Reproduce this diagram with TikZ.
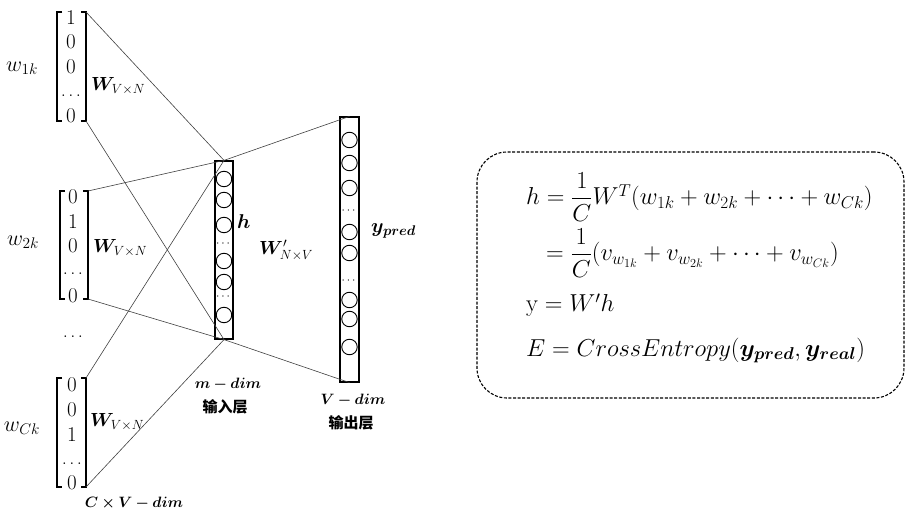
\RequirePackage{fix-cm}
\documentclass[tikz,border=0pt]{standalone}
\usepackage{amsmath}
\usepackage{bm}
\usepackage{fontspec}
\newfontfamily\cjk{Noto Sans CJK SC}
\begin{document}
\begin{tikzpicture}[x=1pt,y=-1pt,
  ent/.style={font=\fontsize{21}{21}\selectfont, inner sep=0},
  entdots/.style={font=\fontsize{17}{17}\selectfont, inner sep=0},
  lbl/.style={font=\fontsize{22}{22}\selectfont, inner sep=0},
  wlbl/.style={font=\fontsize{19}{19}\selectfont, inner sep=0, anchor=west},
  dimlbl/.style={font=\fontsize{15}{15}\selectfont, inner sep=0},
  cjklbl/.style={font=\fontsize{15}{15}\selectfont\cjk\bfseries, inner sep=0},
  brk/.style={line width=1.4pt},
  conn/.style={line width=0.6pt, draw=black!75},
  layer/.style={draw, line width=1.2pt, inner sep=0},
  neuron/.style={draw, circle, line width=0.9pt, minimum size=15.5pt, inner sep=0},
  vdots/.style={font=\fontsize{12}{12}\selectfont, inner sep=0},
  eq/.style={font=\fontsize{24.5}{24.5}\selectfont, inner sep=0, anchor=base west},
  eqbox/.style={draw, dashed, dash pattern=on 3pt off 1.6pt, line width=1.1pt, rounded corners=30pt, inner sep=0}
]
\useasboundingbox (0,0) rectangle (918,518);

% ---------- input vector 1 ----------
\coordinate (v1tl) at (57,12);  \coordinate (v1bl) at (57,121);
\coordinate (v1tr) at (86,12);  \coordinate (v1br) at (86,121);
\draw[brk] ([xshift=5pt]v1tl) -- (v1tl) -- (v1bl) -- ([xshift=5pt]v1bl);
\draw[brk] ([xshift=-5pt]v1tr) -- (v1tr) -- (v1br) -- ([xshift=-5pt]v1br);
\node[ent] (a1) at (71,17.5) {$1$};
\node[ent] (a2) at (71,42) {$0$};
\node[ent] (a3) at (71,67) {$0$};
\node[entdots] (a4) at (71,96) {$\ldots$};
\node[ent] (a5) at (71,116) {$0$};
\node[lbl] (w1) at (22,68) {$w_{1k}$};
\node[wlbl] (W1) at (91,86) {$\bm{W}_{V\times N}$};

% ---------- input vector 2 ----------
\coordinate (v2tl) at (60,191);  \coordinate (v2bl) at (60,299);
\coordinate (v2tr) at (88,191);  \coordinate (v2br) at (88,299);
\draw[brk] ([xshift=5pt]v2tl) -- (v2tl) -- (v2bl) -- ([xshift=5pt]v2bl);
\draw[brk] ([xshift=-5pt]v2tr) -- (v2tr) -- (v2br) -- ([xshift=-5pt]v2br);
\node[ent] (b1) at (73,197) {$0$};
\node[ent] (b2) at (73,222) {$1$};
\node[ent] (b3) at (73,246) {$0$};
\node[entdots] (b4) at (73,274) {$\ldots$};
\node[ent] (b5) at (73,296) {$0$};
\node[lbl] (w2) at (23,242) {$w_{2k}$};
\node[wlbl] (W2) at (93,248) {$\bm{W}_{V\times N}$};

\node[entdots] (gap) at (73,337) {$\ldots$};

% ---------- input vector C ----------
\coordinate (v3tl) at (57,378);  \coordinate (v3bl) at (57,487);
\coordinate (v3tr) at (86,378);  \coordinate (v3br) at (86,487);
\draw[brk] ([xshift=5pt]v3tl) -- (v3tl) -- (v3bl) -- ([xshift=5pt]v3bl);
\draw[brk] ([xshift=-5pt]v3tr) -- (v3tr) -- (v3br) -- ([xshift=-5pt]v3br);
\node[ent] (c1) at (72,385) {$0$};
\node[ent] (c2) at (72,410) {$0$};
\node[ent] (c3) at (72,435) {$1$};
\node[entdots] (c4) at (72,464) {$\ldots$};
\node[ent] (c5) at (72,483) {$0$};
\node[lbl] (w3) at (22,428) {$w_{Ck}$};
\node[wlbl] (W3) at (90,422) {$\bm{W}_{V\times N}$};
\node[dimlbl] (cvdim) at (134,503) {$\bm{C\times V-dim}$};

% ---------- layers ----------
\node[layer, minimum width=18pt, minimum height=178pt] (hid) at (224,250) {};
\node[layer, minimum width=19pt, minimum height=265pt] (out) at (349.5,249.5) {};

% ---------- connectors ----------
\draw[conn] (v1tr) -- (hid.north);
\draw[conn] (v1br) -- (hid.south);
\draw[conn] (v2tr) -- (hid.north) -- (out.north);
\draw[conn] (v2br) -- (hid.south) -- (out.south);
\draw[conn] (v3tr) -- (hid.north);
\draw[conn] (v3br) -- (hid.south);

% ---------- hidden neurons ----------
\node[neuron] (h1) at (224,179) {};
\node[neuron] (h2) at (224,200) {};
\node[neuron] (h3) at (224,225) {};
\node[vdots]  (hd1) at (224,244) {$\cdots$};
\node[neuron] (h4) at (224,261) {};
\node[neuron] (h5) at (224,282) {};
\node[vdots]  (hd2) at (224,297) {$\cdots$};
\node[neuron] (h6) at (224,315) {};

% ---------- output neurons ----------
\node[neuron] (o1) at (349.5,140) {};
\node[neuron] (o2) at (349.5,163) {};
\node[neuron] (o3) at (349.5,188) {};
\node[vdots]  (od1) at (349.5,211) {$\cdots$};
\node[neuron] (o4) at (349.5,232) {};
\node[neuron] (o5) at (349.5,253) {};
\node[vdots]  (od2) at (349.5,281) {$\cdots$};
\node[neuron] (o6) at (349.5,300) {};
\node[neuron] (o7) at (349.5,319) {};
\node[neuron] (o8) at (349.5,347) {};

% ---------- layer labels ----------
\node[wlbl, font=\fontsize{20}{20}\selectfont] (hl) at (237,222) {$\bm{h}$};
\node[wlbl] (Wp) at (259,250) {$\bm{W}'_{N\times V}$};
\node[wlbl, font=\fontsize{20}{20}\selectfont] (yp) at (371,231) {$\bm{y_{pred}}$};
\node[dimlbl] (mdim) at (228,384) {$\bm{m-dim}$};
\node[cjklbl] (inl) at (225,407) {输入层};
\node[dimlbl] (vdim) at (353,400) {$\bm{V-dim}$};
\node[cjklbl] (outl) at (351,423) {输出层};

% ---------- equations ----------
\node[eqbox, minimum width=427pt, minimum height=246pt] (box) at (690.5,275) {};
\node[eq] (e1) at (526,205) {$h=\dfrac{1}{C}W^{T}(w_{1k}+w_{2k}+\cdots+w_{Ck})$};
\node[eq] (e2) at (546,261) {$=\dfrac{1}{C}(v_{w_{1k}}+v_{w_{2k}}+\cdots+v_{w_{Ck}})$};
\node[eq] (e3) at (526,312) {$\mathrm{y}=W'h$};
\node[eq] (e4) at (526,356) {$E=CrossEntropy(\bm{y_{pred}},\bm{y_{real}})$};
\end{tikzpicture}
\end{document}
